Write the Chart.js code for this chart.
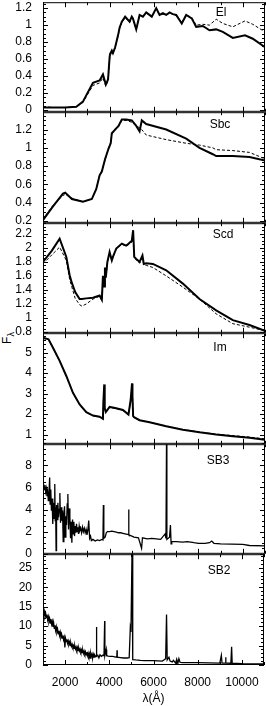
<!DOCTYPE html>
<html>
<head>
<meta charset="utf-8">
<script src="https://cdn.jsdelivr.net/npm/chart.js@4"></script>
<style>
  body { margin: 0; background: #fff; width: 266px; height: 706px; position: relative; overflow: hidden; font-family: "Liberation Sans", Arial, sans-serif; }
  canvas { position: absolute; left: 0; }
  .lab { position: absolute; font-size: 12px; color: #000; transform: translate(-50%, -50%); white-space: nowrap; }
  #ylab { position: absolute; left: 8px; top: 338px; font-size: 12px; transform: translate(-50%, -50%) rotate(-90deg); }
  #err { position: absolute; left: 50px; top: 300px; font-size: 10px; color: red; width: 210px; }
</style>
</head>
<body>
<div id="ylab">F<sub style="font-size:9px">λ</sub></div>
<div id="err"></div>
<script>
window.onerror = (m) => { document.getElementById('err').textContent += m + ' | '; };

// ---- data ----
const xMajor = [2000, 4000, 6000, 8000, 10000];

const elWave = [1000,1500,2000,2500,2800,3000,3250,3550,3700,3830,3930,4000,4020,4100,4150,4250,4380,4450,4550,4700,4800,4900,5000,5050,5200,5350,5500,5650,5900,6100,6250,6400,6550,6700,6850,7000,7250,7450,7700,7900,8200,8500,8800,9100,9550,10100,10450,11000];
const elFluxA = [0.03,0.03,0.03,0.04,0.1,0.2,0.32,0.35,0.42,0.3,0.36,0.62,0.66,0.7,0.67,0.74,0.88,0.97,1.04,1.1,1.07,1.04,1.1,1.08,0.95,1.12,1.1,1.15,1.1,1.2,1.12,1.14,1.12,1.15,1.13,1.12,1.02,1.12,1.08,0.98,0.99,0.94,0.95,0.92,0.85,0.88,0.84,0.74];
const elFluxB = [0.04,0.03,0.03,0.04,0.09,0.18,0.29,0.32,0.38,0.28,0.35,0.6,0.64,0.68,0.66,0.73,0.87,0.96,1.03,1.09,1.06,1.03,1.09,1.07,0.95,1.11,1.1,1.14,1.1,1.19,1.12,1.13,1.12,1.14,1.13,1.11,1.03,1.12,1.09,1.0,1.01,1.0,1.07,1.02,0.98,1.05,1.01,0.92];

const sbcWave = [1000,1450,1900,2000,2300,2800,3200,3400,3550,3650,3800,3950,4050,4100,4250,4400,4550,4750,5000,5200,5350,5450,5650,6550,7450,8050,8650,8800,9550,10300,11000];
const sbcFluxA = [0.21,0.36,0.5,0.51,0.44,0.41,0.44,0.55,0.7,0.74,0.88,0.99,1.05,1.16,1.2,1.24,1.31,1.31,1.3,1.24,1.18,1.3,1.26,1.2,1.1,1.0,0.93,0.91,0.91,0.9,0.86];
const sbcFluxB = [0.22,0.37,0.48,0.49,0.45,0.41,0.44,0.55,0.7,0.75,0.87,1.0,1.06,1.15,1.21,1.23,1.3,1.3,1.28,1.24,1.22,1.2,1.14,1.09,1.05,1.03,1.0,0.98,0.97,0.95,0.88];

const scdWave = [1000,1400,1750,2050,2200,2300,2450,2650,2750,2950,3250,3550,3650,3700,3750,3790,3830,3900,4000,4100,4150,4300,4550,4750,5000,5060,5110,5200,5350,5480,5540,5650,5950,6550,7300,8050,8800,9550,10300,11000];
const scdFluxA = [1.8,1.96,2.13,1.87,1.61,1.5,1.37,1.27,1.27,1.28,1.29,1.32,1.26,1.6,1.45,1.72,1.58,1.8,1.94,1.82,1.87,1.99,2.06,2.03,2.1,2.25,1.87,1.84,1.8,1.89,1.77,1.78,1.77,1.68,1.49,1.27,1.11,0.97,0.9,0.82];
const scdFluxB = [1.77,1.9,2.01,1.82,1.55,1.44,1.28,1.19,1.17,1.2,1.27,1.31,1.25,1.58,1.45,1.7,1.57,1.78,1.92,1.82,1.86,1.98,2.05,2.02,2.08,2.2,1.86,1.83,1.78,1.85,1.76,1.75,1.72,1.6,1.44,1.27,1.06,0.92,0.87,0.82];

const imWave = [1000,1250,1450,1750,2050,2350,2650,2950,3250,3550,3700,3720,3760,3780,3830,4000,4250,4600,4850,4950,5010,5030,5060,5100,5350,5800,6550,7300,8050,8800,9550,10300,11000];
const imFluxA = [5.73,5.65,5.24,4.6,3.86,3.04,2.47,2.09,1.93,1.87,1.77,2.6,3.45,2.3,2.1,2.35,2.3,2.2,1.98,2.7,3.5,2.9,1.9,1.85,1.7,1.6,1.41,1.24,1.11,1.0,0.92,0.85,0.75];
const imFluxB = [5.7,5.63,5.22,4.58,3.85,3.03,2.46,2.08,1.92,1.86,1.76,2.58,3.4,2.28,2.1,2.33,2.28,2.18,1.97,2.65,3.4,2.85,1.9,1.84,1.7,1.6,1.42,1.25,1.12,1.02,0.95,0.88,0.79];

const sb3Wave = [1000,1030,1060,1090,1120,1150,1180,1210,1240,1270,1300,1320,1350,1380,1410,1440,1470,1500,1530,1550,1570,1590,1610,1640,1670,1700,1730,1760,1790,1820,1850,1880,1910,1940,1970,2000,2030,2060,2090,2120,2150,2180,2210,2240,2270,2300,2330,2360,2390,2420,2450,2480,2510,2540,2570,2600,2630,2660,2700,2740,2780,2820,2860,2900,2940,2980,3020,3060,3100,3140,3180,3250,3350,3450,3550,3650,3700,3720,3740,3800,3850,3900,4000,4100,4200,4300,4400,4500,4600,4700,4800,4850,4860,4870,4950,5000,5100,5300,5440,5480,5700,5900,6100,6300,6500,6540,6565,6580,6700,6740,6770,6800,7000,7300,7500,7800,8000,8300,8500,8600,8700,9000,9500,10000,10300,11000];
const sb3Flux = [6.3,6.0,5.8,6.2,5.6,5.9,5.2,5.6,4.8,5.5,6.9,4.5,5.8,3.9,5.0,2.7,4.6,3.2,6.3,3.0,4.2,0.3,4.4,3.1,4.6,3.3,4.0,5.5,2.8,4.2,3.0,3.9,1.1,3.6,4.3,1.5,3.4,2.6,4.5,5.4,2.2,4.1,3.3,1.4,2.9,1.0,3.1,1.8,2.9,1.6,2.5,1.9,2.7,2.0,2.4,1.8,2.5,2.1,2.3,1.9,2.4,2.0,2.3,1.9,2.2,1.7,2.1,3.0,1.4,1.6,1.2,1.3,1.15,1.25,1.2,1.3,1.25,4.4,1.4,1.5,1.9,2.0,2.0,2.05,2.0,1.95,1.9,1.9,1.85,1.8,1.75,1.75,4.0,1.7,1.65,1.6,1.5,1.45,0.5,1.45,1.35,1.4,1.35,1.3,1.8,1.4,10.5,1.3,1.5,2.6,0.9,1.1,1.1,1.05,1.1,1.0,0.95,0.95,1.0,1.15,0.95,0.9,0.88,0.85,0.75,0.72];

const sb2Wave = [1000,1030,1060,1090,1120,1150,1180,1210,1240,1270,1300,1330,1360,1390,1420,1450,1480,1510,1540,1570,1600,1630,1660,1690,1720,1750,1780,1810,1840,1870,1900,1930,1960,1990,2020,2050,2080,2110,2140,2170,2200,2230,2260,2290,2320,2350,2380,2410,2440,2470,2500,2530,2560,2590,2620,2650,2680,2710,2740,2770,2800,2830,2860,2890,2920,2950,2980,3010,3040,3070,3100,3130,3160,3190,3220,3250,3280,3310,3340,3380,3410,3420,3430,3480,3530,3580,3640,3700,3760,3790,3800,3860,3880,3950,4050,4150,4250,4340,4350,4360,4500,4650,4800,4900,4950,4980,5030,5060,5200,5400,5600,5800,6000,6200,6400,6550,6590,6620,6700,6750,6850,6900,7000,7050,7100,7150,7200,7300,7500,8000,8500,9000,9070,9100,9250,9265,9280,9500,9535,9560,10000,10500,11000];
const sb2Flux = [14.2,13.0,13.8,12.5,13.3,12.2,13.0,11.6,12.4,11.2,12.0,10.8,11.8,10.5,11.2,9.8,10.9,9.4,10.2,8.9,9.8,8.5,9.2,8.0,8.8,7.6,8.4,7.2,7.9,6.9,7.6,6.5,7.1,4.5,6.8,6.0,6.6,5.6,6.2,5.3,5.9,5.0,5.6,4.8,5.3,4.6,5.0,4.3,4.9,4.1,4.6,3.9,4.5,3.7,4.3,3.6,4.1,3.4,3.9,3.2,3.8,3.0,3.6,2.9,3.4,2.6,3.3,2.4,3.1,2.3,2.9,1.8,3.0,2.2,2.8,1.9,2.7,2.0,2.6,2.2,2.4,9.8,2.3,2.5,1.8,2.6,2.2,2.5,2.4,11.3,2.4,4.0,2.4,2.3,2.2,2.2,2.1,2.0,3.8,2.0,1.9,1.8,1.8,1.9,9.5,8.5,30,1.4,1.3,1.2,1.15,1.15,1.1,1.05,1.0,1.6,13,1.3,2.0,1.0,0.8,1.2,0.5,1.5,0.4,1.6,0.7,0.6,0.6,0.6,0.55,0.5,2.5,0.5,0.5,2.0,0.5,0.45,4.7,0.45,0.35,0.3,0.3];

const panelNames = ['El', 'Sbc', 'Scd', 'Im', 'SB3', 'SB2'];

// ---- layout ----
const bounds = [2, 112, 223, 333, 444, 554, 665];
const labelPos = [[221, 12], [220, 124], [223, 234], [220, 347], [218, 460], [219, 570]];
const font = { family: '"Liberation Sans", Arial, sans-serif', size: 12 };

const panels = [
  { wave: elWave, a: elFluxA, b: elFluxB, min: -0.02, max: 1.27, step: 0.2, minor: 0.05 },
  { wave: sbcWave, a: sbcFluxA, b: sbcFluxB, min: 0.18, max: 1.39, step: 0.2, minor: 0.05 },
  { wave: scdWave, a: scdFluxA, b: scdFluxB, min: 0.79, max: 2.35, step: 0.2, minor: 0.05 },
  { wave: imWave, a: imFluxA, b: imFluxB, min: 0.55, max: 5.95, step: 1, minor: 0.2 },
  { wave: sb3Wave, a: sb3Flux, min: 0, max: 9.9, step: 2, minor: 0.5 },
  { wave: sb2Wave, a: sb2Flux, min: 0, max: 28.5, step: 5, minor: 1 }
];

function pts(w, f) { return w.map((x, i) => ({ x, y: f[i] })); }

// box with inward ticks on all four sides
function makeBox(p) {
  return {
    id: 'boxTicks',
    afterDraw(chart) {
      const ctx = chart.ctx;
      const a = chart.chartArea;
      const x = chart.scales.x, y = chart.scales.y;
      ctx.save();
      ctx.strokeStyle = '#000';
      ctx.lineWidth = 1;
      ctx.strokeRect(a.left + 0.5, a.top + 0.5, a.right - a.left - 1, a.bottom - a.top - 1);
      ctx.beginPath();
      for (let v = 1000; v <= 11000; v += 1000) {
        const px = Math.round(x.getPixelForValue(v)) + 0.5;
        const len = xMajor.includes(v) ? 5 : 3;
        ctx.moveTo(px, a.bottom); ctx.lineTo(px, a.bottom - len);
        ctx.moveTo(px, a.top); ctx.lineTo(px, a.top + len);
      }
      const n0 = Math.ceil(p.min / p.minor - 1e-6);
      for (let k = n0; k * p.minor <= p.max + 1e-9; k++) {
        const v = k * p.minor;
        const py = Math.round(y.getPixelForValue(v)) + 0.5;
        const r = v / p.step;
        const len = Math.abs(r - Math.round(r)) < 1e-6 ? 5 : 3;
        ctx.moveTo(a.left, py); ctx.lineTo(a.left + len, py);
        ctx.moveTo(a.right, py); ctx.lineTo(a.right - len, py);
      }
      ctx.stroke();
      ctx.restore();
    }
  };
}

panels.forEach((p, i) => {
  const last = i === panels.length - 1;
  const top = bounds[i] - 10;
  const height = last ? 706 - top : bounds[i + 1] - bounds[i] + 20;
  const cv = document.createElement('canvas');
  cv.width = 266; cv.height = height;
  cv.style.top = top + 'px';
  document.body.appendChild(cv);

  const lab = document.createElement('div');
  lab.className = 'lab';
  lab.textContent = panelNames[i];
  lab.style.left = labelPos[i][0] + 'px';
  lab.style.top = labelPos[i][1] + 'px';
  document.body.appendChild(lab);

  const datasets = [{ data: pts(p.wave, p.a), borderColor: '#000', borderWidth: p.b ? 2 : 1.3 }];
  if (p.b) datasets.push({ data: pts(p.wave, p.b), borderColor: '#000', borderWidth: 1, borderDash: [3, 2] });

  const xScale = {
    type: 'linear', min: 1000, max: 11000, display: last,
    grid: { display: false }, border: { display: false },
    ticks: {
      stepSize: 1000, includeBounds: false, maxRotation: 0, autoSkip: false,
      padding: 2, color: '#000', font,
      callback: v => xMajor.includes(v) ? String(v) : ''
    },
    title: { display: true, text: 'λ(Å)', color: '#000', font, padding: { top: 4, bottom: 0 } }
  };
  if (last) xScale.afterFit = s => { s.height = 706 - bounds[6]; };

  new Chart(cv, {
    type: 'line',
    data: { datasets },
    options: {
      responsive: false,
      animation: false,
      devicePixelRatio: 1,
      layout: { padding: { top: 10, bottom: last ? 0 : 10, left: 0, right: 1 } },
      elements: { point: { radius: 0 }, line: { tension: 0 } },
      plugins: { legend: { display: false }, tooltip: { enabled: false } },
      scales: {
        x: xScale,
        y: {
          min: p.min, max: p.max,
          grid: { display: false }, border: { display: false },
          ticks: {
            stepSize: p.step, includeBounds: false, autoSkip: false, padding: 3, color: '#000', font,
            callback: v => String(+v.toFixed(2))
          },
          afterFit: s => { s.width = 43; }
        }
      }
    },
    plugins: [makeBox(p)]
  });
});
</script>
</body>
</html>
